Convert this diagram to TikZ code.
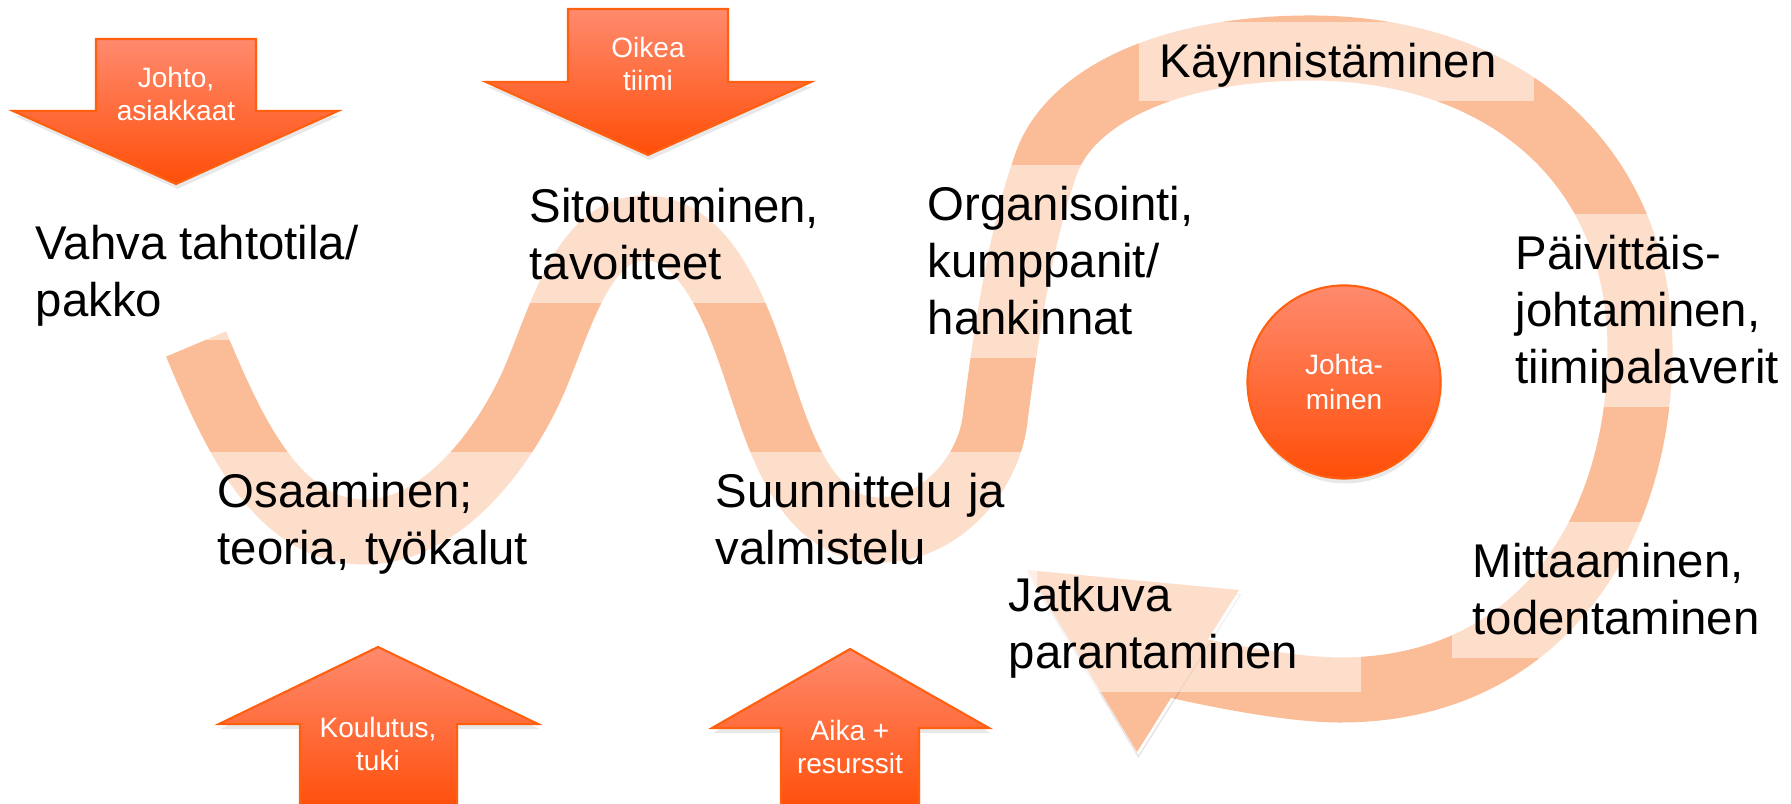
\documentclass[tikz,border=0pt]{standalone}
\usepackage{fontspec}
\setmainfont{Liberation Sans}
\usepackage{xcolor}
\usetikzlibrary{calc,positioning,shadows}
\definecolor{bandcol}{RGB}{251,189,151}
\definecolor{pushtop}{RGB}{255,138,110}
\definecolor{pushbot}{RGB}{255,78,8}
\definecolor{pushline}{RGB}{255,96,16}
\newcommand{\phtop}{\rule{0pt}{0.47cm}}
\newcommand{\phbot}{\rule[-0.14cm]{0pt}{0.14cm}}
\tikzset{%
	castshadow/.style = {preaction = {draw = black, draw opacity = 0.1, fill opacity = 0.1,
	                     transform canvas = {xshift = 0.4pt, yshift = -1.3pt}}}, % Soft shadow
	band/.style     = {draw=bandcol, line width = 0.65cm, line join = round, castshadow}, % Path
	phase/.style    = {anchor = north west, align = left, fill = white, fill opacity = 0.5, text opacity = 1,
	                   inner xsep = 0.21cm, inner ysep = 0.09cm,
	                   font = \fontsize{13.46pt}{16.22pt}\selectfont}, % Phase text
	push/.style     = {draw = pushline, line width = 0.6pt, top color = pushtop, bottom color = pushbot,
	                   drop shadow = {opacity = 0.18, shadow xshift = 0.4pt, shadow yshift = -1.4pt}}, % Input arrow
	pushtext/.style = {align = center, text = white, inner sep = 0pt,
	                   font = \fontsize{7.97pt}{9.39pt}\selectfont}, % Arrow text
	hub/.style      = {circle, draw = pushline, line width = 0.6pt, minimum size = 1.93cm, inner sep = 0pt,
	                   top color = pushtop, bottom color = pushbot, align = center, text = white,
	                   drop shadow = {opacity = 0.18, shadow xshift = 0.4pt, shadow yshift = -1.4pt},
	                   font = \fontsize{7.97pt}{9.8pt}\selectfont}, % Centre
}
\begin{document}
\begin{tikzpicture}[x=0.01cm, y=-0.01cm]
	\useasboundingbox (0,0) rectangle (1791,804);
	% the band
	\draw[band] (196,344) .. controls (231,427) and (275,532) .. (365,532)
		.. controls (445,532) and (509,441) .. (536,376)
		.. controls (563,311) and (585,228) .. (645,228)
		.. controls (705,228) and (736,310) .. (758,376)
		.. controls (780,442) and (805,530) .. (880,530)
		.. controls (940,530) and (988,475) .. (995,420)
		.. controls (1005,341) and (1020,234) .. (1048,159)
		.. controls (1074,95) and (1170,48) .. (1310,48)
		.. controls (1500,48) and (1640,160) .. (1640,350)
		.. controls (1640,530) and (1540,690) .. (1340,690)
		.. controls (1290,690) and (1210,674) .. (1160,662);
	\fill[bandcol, castshadow] (1027,570) -- (1239,590) -- (1137,752) -- cycle;
	
	\node[phase] (vahva) at (14,203) {\phtop Vahva tahtotila/\\pakko\phbot};
	\node[phase, text width = 3.2cm] (osaa) at (196,451) {\phtop Osaaminen;\\teoria, työkalut\phbot};
	\node[phase] (sitou) at (508,166) {\phtop Sitoutuminen,\\tavoitteet\phbot};
	\node[phase, text width = 3.0cm] (suun) at (694,451) {\phtop Suunnittelu ja\\valmistelu\phbot};
	\node[phase] (organ) at (906,164) {\phtop Organisointi,\\kumppanit/\\hankinnat\phbot};
	\node[phase, text width = 3.53cm] (kaynn) at (1138,21) {\phtop Käynnistäminen\phbot};
	\node[phase] (paiv) at (1494,213) {\phtop Päivittäis-\\johtaminen,\\tiimipalaverit\phbot};
	\node[phase] (mitt) at (1451,521) {\phtop Mittaaminen,\\todentaminen\phbot};
	\node[phase, text width = 3.31cm] (jatk) at (987,555) {\phtop Jatkuva\\parantaminen\phbot};
	
	\node[hub] (johta) at (1344,382) {Johta-\\minen};
	
	% input arrows
	\path[push] (96,39) -- (256,39) -- (256,111) -- (338,111) -- (176,184) -- (13,111) -- (96,111) -- cycle;
	\node[pushtext] (johto) at (176,94) {Johto,\\asiakkaat};
	\path[push] (568,9) -- (728,9) -- (728,82) -- (811,82) -- (648,155) -- (486,82) -- (568,82) -- cycle;
	\node[pushtext] (oikea) at (648,64) {Oikea\\tiimi};
	\path[push] (300,812) -- (300,724) -- (219,724) -- (378,647) -- (538,724) -- (457,724) -- (457,812) -- cycle;
	\node[pushtext] (koulu) at (378,744) {Koulutus,\\tuki};
	\path[push] (781,812) -- (781,728) -- (712,728) -- (850,649) -- (989,728) -- (919,728) -- (919,812) -- cycle;
	\node[pushtext] (aika) at (850,747) {Aika +\\resurssit};
\end{tikzpicture}
\end{document}
